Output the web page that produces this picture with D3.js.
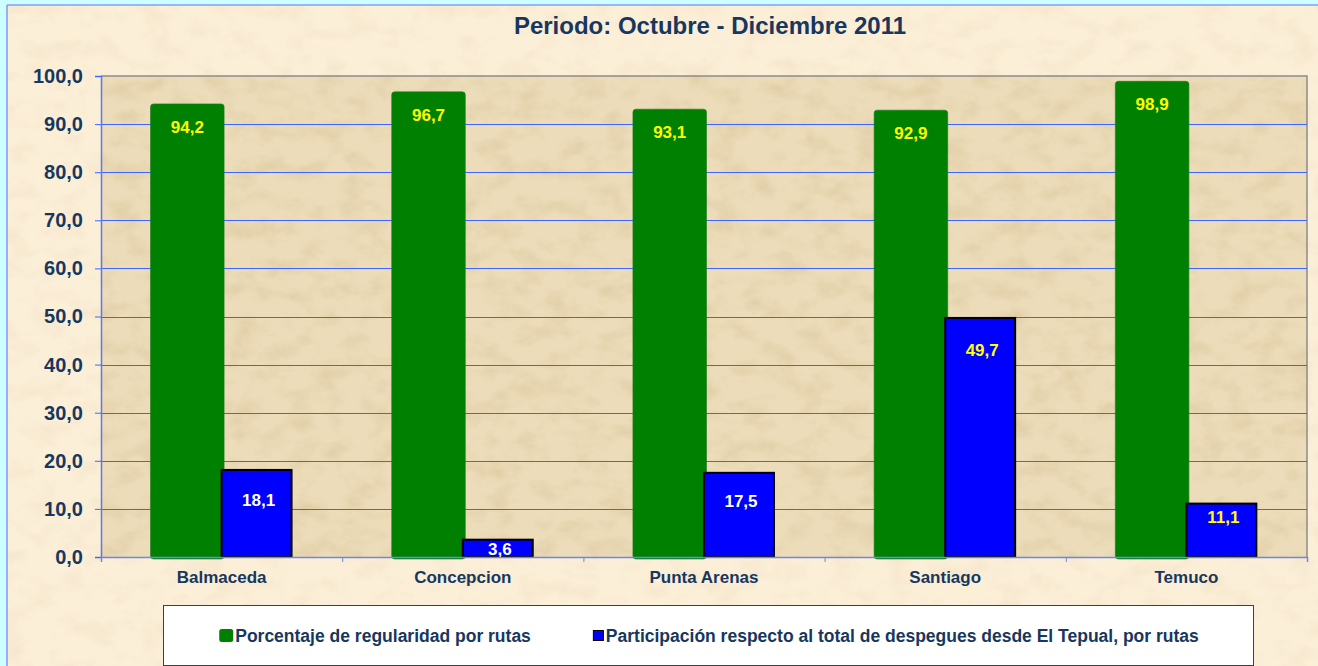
<!DOCTYPE html>
<html lang="es">
<head>
<meta charset="UTF-8">
<script src="https://d3js.org/d3.v7.min.js"></script>
<style>
    body, html {
        margin: 0;
        width: 100%;
        height: 100%;
        overflow: hidden;
        background: #ccffff;
        font-family: Arial, "Liberation Sans", sans-serif;
    }
    .txt { fill: #17375e; font-weight: bold; }
</style>
</head>
<body>
<div id="chart"></div>
<script>
    // datos
    const categories = ["Balmaceda", "Concepcion", "Punta Arenas", "Santiago", "Temuco"];
    const regularidad = [94.2, 96.7, 93.1, 92.9, 98.9];
    const participacion = [18.1, 3.6, 17.5, 49.7, 11.1];
    const yTicks = [0, 10, 20, 30, 40, 50, 60, 70, 80, 90, 100];
    const seriesNames = ["Porcentaje de regularidad por rutas",
        "Participación respecto al total de despegues desde El Tepual, por rutas"];
    const titulo = "Periodo: Octubre - Diciembre 2011";

    // estilos
    const green = "#008000", blue = "#0000ff";
    const blueLabelColors = ["#ffffff", "#ffffff", "#ffffff", "#ffff00", "#ffff00"];

    const W = 1318, H = 666;
    const plot = {left: 101, top: 76, right: 1307, bottom: 557};

    const es = d3.formatLocale({decimal: ",", thousands: ".", grouping: [3], currency: ["$", ""]});
    const fmt = es.format(".1f");

    const svg = d3.select("#chart").append("svg")
        .attr("width", W).attr("height", H);

    // textura tipo pergamino
    const defs = svg.append("defs");
    const f = defs.append("filter").attr("id", "parch")
        .attr("x", 0).attr("y", 0).attr("width", "100%").attr("height", "100%");
    f.append("feTurbulence").attr("type", "fractalNoise")
        .attr("baseFrequency", "0.035 0.05").attr("numOctaves", 4).attr("seed", 5).attr("result", "noise");
    f.append("feColorMatrix").attr("in", "noise").attr("type", "matrix")
        .attr("values", "0 0 0 0 0.62  0 0 0 0 0.48  0 0 0 0 0.25  1.8 0 0 0 -0.8")
        .attr("result", "tint");
    f.append("feComposite").attr("in", "tint").attr("in2", "SourceGraphic").attr("operator", "in");

    // area del grafico
    svg.append("rect").attr("x", 7).attr("y", 5).attr("width", W).attr("height", H)
        .attr("fill", "#fcefd8");
    svg.append("rect").attr("x", 7).attr("y", 5).attr("width", W).attr("height", H)
        .attr("fill", "#000").attr("opacity", 0.18).attr("filter", "url(#parch)");
    svg.append("line").attr("x1", 7).attr("x2", 7).attr("y1", 5).attr("y2", H)
        .attr("stroke", "#8c9cf0").attr("stroke-width", 1.6);
    svg.append("line").attr("x1", 7).attr("x2", W).attr("y1", 5).attr("y2", 5)
        .attr("stroke", "#8c9cf0").attr("stroke-width", 1.6);

    // area de trazado
    svg.append("rect").attr("x", plot.left).attr("y", plot.top)
        .attr("width", plot.right - plot.left).attr("height", plot.bottom - plot.top)
        .attr("fill", "#ecdcb9");
    svg.append("rect").attr("x", plot.left).attr("y", plot.top)
        .attr("width", plot.right - plot.left).attr("height", plot.bottom - plot.top)
        .attr("fill", "#000").attr("opacity", 0.45).attr("filter", "url(#parch)");
    svg.append("path")
        .attr("d", `M${plot.left},${plot.top}H${plot.right}V${plot.bottom}`)
        .attr("fill", "none").attr("stroke", "#8c8c8c").attr("stroke-width", 1.5);

    svg.append("text").attr("class", "txt")
        .attr("x", 710).attr("y", 34).attr("text-anchor", "middle")
        .style("font-size", "24px").text(titulo);

    const y = d3.scaleLinear().domain([0, 100]).range([plot.bottom, plot.top]);
    const x = d3.scaleBand().domain(categories).range([plot.left, plot.right]);
    const xEdge = d3.scaleLinear().domain([0, categories.length]).range([plot.left, plot.right]);

    // lineas de division
    svg.append("g").selectAll("line")
        .data(yTicks.filter(d => d > 0 && d < 100))
        .join("line")
        .attr("x1", plot.left).attr("x2", plot.right)
        .attr("y1", d => Math.round(y(d)) + 0.5).attr("y2", d => Math.round(y(d)) + 0.5)
        .attr("stroke", "#3d66ff").attr("stroke-width", 1.2);

    const bw = x.bandwidth();
    const gW = bw * 0.305, bW = bw * 0.29;

    // serie 1
    svg.append("g").selectAll("rect")
        .data(regularidad)
        .join("rect")
        .attr("x", (d, i) => x(categories[i]) + bw / 2 - gW + 2.5)
        .attr("y", d => y(d))
        .attr("width", gW)
        .attr("height", d => y(0) - y(d) + 2)
        .attr("rx", 3)
        .attr("fill", green)
        .attr("stroke", "#1a7a1a").attr("stroke-width", 0.6);

    // serie 2
    svg.append("g").selectAll("rect")
        .data(participacion)
        .join("rect")
        .attr("x", (d, i) => x(categories[i]) + bw / 2)
        .attr("y", d => y(d))
        .attr("width", bW)
        .attr("height", d => y(0) - y(d))
        .attr("fill", blue)
        .attr("stroke", "#000").attr("stroke-width", 2);

    // etiquetas de datos
    svg.append("g").selectAll("text")
        .data(regularidad)
        .join("text")
        .attr("x", (d, i) => x(categories[i]) + bw / 2 - gW / 2 + 2.5)
        .attr("y", d => y(d) + 29)
        .attr("text-anchor", "middle")
        .attr("fill", "#ffff00").attr("font-weight", "bold").style("font-size", "17px")
        .text(d => fmt(d));

    svg.append("g").selectAll("text")
        .data(participacion)
        .join("text")
        .attr("x", (d, i) => x(categories[i]) + bw / 2 + bW / 2 + 2)
        .attr("y", d => {
            const h = y(0) - y(d);
            return y(d) + Math.min(38, Math.max(15, h / 2 - 7.5));
        })
        .attr("text-anchor", "middle")
        .attr("fill", (d, i) => blueLabelColors[i]).attr("font-weight", "bold").style("font-size", "17px")
        .text(d => fmt(d));

    // ejes
    const yAxis = svg.append("g")
        .attr("transform", `translate(${plot.left},0)`)
        .call(d3.axisLeft(y).tickValues(yTicks).tickSize(6).tickPadding(12).tickFormat(fmt));
    yAxis.selectAll("text").attr("class", "txt").style("font-size", "20px").attr("font-family", null);
    yAxis.selectAll("line").attr("stroke", "#3d66ff");
    yAxis.select(".domain").attr("stroke", "#5a78f0").attr("stroke-width", 1.5);

    const xTicks = svg.append("g")
        .attr("transform", `translate(0,${plot.bottom})`)
        .call(d3.axisBottom(xEdge).tickValues(d3.range(categories.length + 1)).tickSize(5).tickFormat(""));
    xTicks.selectAll("line").attr("stroke", "#6a86f0");
    xTicks.select(".domain").attr("stroke", "#6a86f0").attr("stroke-width", 1.5);

    const xAxis = svg.append("g")
        .attr("transform", `translate(0,${plot.bottom})`)
        .call(d3.axisBottom(x).tickSize(0).tickPadding(14));
    xAxis.select(".domain").remove();
    xAxis.selectAll("text").attr("class", "txt").style("font-size", "17px").attr("font-family", null);

    // leyenda
    const lg = {x: 163, y: 605, w: 1090, h: 60};
    svg.append("rect").attr("x", lg.x + 0.5).attr("y", lg.y + 0.5)
        .attr("width", lg.w).attr("height", lg.h)
        .attr("fill", "#ffffff").attr("stroke", "#404040").attr("stroke-width", 1);

    const items = svg.append("g");
    const t1 = items.append("text").attr("class", "txt").style("font-size", "17.5px")
        .attr("y", 642).text(seriesNames[0]);
    const t2 = items.append("text").attr("class", "txt").style("font-size", "17.5px")
        .attr("y", 642).text(seriesNames[1]);
    const w1 = t1.node().getComputedTextLength(), w2 = t2.node().getComputedTextLength();
    const gap = 62;
    const total = 16 + w1 + gap + 13 + w2;
    const sx = lg.x + lg.w / 2 - total / 2 + 1;
    items.append("rect").attr("x", sx).attr("y", 629).attr("width", 14).attr("height", 13)
        .attr("rx", 2.5).attr("fill", green);
    t1.attr("x", sx + 16);
    const sx2 = sx + 16 + w1 + gap;
    items.append("rect").attr("x", sx2 + 0.5).attr("y", 630.5).attr("width", 10).attr("height", 10)
        .attr("fill", blue).attr("stroke", "#000").attr("stroke-width", 1);
    t2.attr("x", sx2 + 13);
</script>
</body>
</html>
